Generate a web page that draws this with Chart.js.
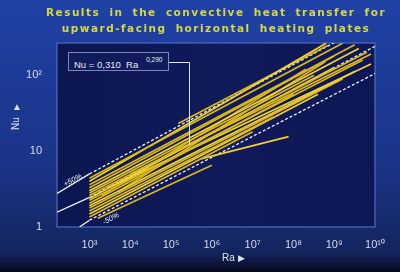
<!DOCTYPE html>
<html>
<head>
<meta charset="utf-8">
<script src="https://cdn.jsdelivr.net/npm/chart.js@4.4.1/dist/chart.umd.min.js"></script>
<style>
  html, body { margin: 0; padding: 0; background: #1a3384; }
  #wrap { position: relative; width: 400px; height: 272px; overflow: hidden; }
  #wrap canvas { position: absolute; left: 0; top: 0; }
  .title { position: absolute; left: 0; width: 432px; text-align: center; color: #d6d842;
           font: bold 10.5px "DejaVu Sans", sans-serif; letter-spacing: 1.5px; word-spacing: 4px; }
  .formula { position: absolute; left: 68px; top: 52px; width: 101px; height: 19px; box-sizing: border-box;
             border: 1px solid #7f88b4; background: #111c5c; color: #e8ecf4;
             font: 9.5px "Liberation Sans", sans-serif; line-height: 17px; padding-left: 5px; white-space: nowrap; }
  .formula sup { font-size: 6.5px; position: relative; top: -2px; margin-left: 8px; }
  .pct { position: absolute; color: #e8ecf4; font: italic 7.5px "Liberation Sans", sans-serif;
         transform: rotate(-28deg); transform-origin: left center; white-space: nowrap; }
  .axis { position: absolute; color: #dfe4f0; font: 10px "Liberation Sans", sans-serif; }
</style>
</head>
<body>
<div id="wrap">
  <canvas id="c" width="400" height="272"></canvas>
  <div class="title" style="top:6px">Results in the convective heat transfer for</div>
  <div class="title" style="top:22px">upward-facing horizontal heating plates</div>
  <div class="formula">Nu = 0,310&nbsp; Ra<sup>0,290</sup></div>
  <div class="pct" style="left:64px; top:180px">+50%</div>
  <div class="pct" style="left:103px; top:218px">-50%</div>
  <div class="axis" style="left:222px; top:252px">Ra <span style="font-size:9px">▶</span></div>
  <div class="axis" style="left:12px; top:101px">▲</div>
  <div class="axis" style="left:10px; top:130px; transform: rotate(-90deg); transform-origin: left top">Nu</div>
</div>
<script>
// axis ticks
const raTicks = [1e3, 1e4, 1e5, 1e6, 1e7, 1e8, 1e9, 1e10];
const raTickLabels = ["10³", "10⁴", "10⁵", "10⁶", "10⁷", "10⁸", "10⁹", "10¹⁰"];
const nuTicks = [1, 10, 100];
const nuTickLabels = ["1", "10", "10²"];

const startRa = [1e3, 1e3, 1e3, 1e3, 1e3, 1e3, 1e3, 1e3, 1e3, 1e3, 1e3, 1e3, 1e3, 1e3, 1e3, 1.5e5, 5.4e5, 1.6e3, 1e4, 3e3, 2e3, 5e3];
const startNu = [4.4, 4.0, 3.6, 3.3, 3.0, 2.8, 2.6, 2.4, 2.25, 2.05, 1.9, 1.78, 1.62, 1.48, 1.35, 23, 7.9, 1.3, 5.0, 3.3, 2.6, 2.9];
const endRa = [1.6e9, 6.3e8, 3.2e9, 1e9, 4e9, 3.2e8, 6.3e9, 1e9, 5e9, 1e8, 3.2e9, 1.6e9, 3.2e7, 4e8, 1e7, 6.8e8, 7.6e7, 1e6, 8e9, 8e9, 2e8, 6e8];
const endNu = [263, 263, 251, 178, 224, 100, 200, 126, 158, 56, 112, 89, 28, 56, 18, 245, 15.5, 6.5, 190, 140, 120, 150];

// correlation Nu = 0.310 Ra^0.290 and the +/-50 % band
const corrRa = [160, 1e3, 1e10];
const corrNu = [1.57, 2.45, 240];
const upperRa = [160, 1e3, 1e10];
const upperNu = [2.76, 5.0, 520];
const lowerRa = [570, 1e3, 1e10];
const lowerNu = [1.0, 1.23, 105];
const pointerRa = 2.75e5; // where the formula box points

const pts = (xs, ys) => xs.map((x, i) => ({ x, y: ys[i] }));

const datasets = startRa.map((r, i) => ({
  data: [{ x: r, y: startNu[i] }, { x: endRa[i], y: endNu[i] }],
  borderColor: i % 3 === 1 ? "#f0d234" : "#dcb81c", borderWidth: 1.7
}));

const dashAfter1e3 = { borderDash: ctx => ctx.p0.parsed.x >= 1e3 ? [3, 2] : undefined };
[[corrRa, corrNu], [upperRa, upperNu], [lowerRa, lowerNu]].forEach(([xs, ys]) => {
  datasets.push({ data: pts(xs, ys), borderColor: "#eef2fa", borderWidth: 1.3, segment: dashAfter1e3 });
});

const backdrop = {
  id: "backdrop",
  beforeDraw(chart) {
    const { ctx, chartArea: a, width, height } = chart;
    ctx.save();
    let g = ctx.createLinearGradient(0, 0, 0, height);
    g.addColorStop(0, "#1f42a6");
    g.addColorStop(0.6, "#1a3488");
    g.addColorStop(0.93, "#14245e");
    g.addColorStop(1, "#05081c");
    ctx.fillStyle = g;
    ctx.fillRect(0, 0, width, height);
    g = ctx.createLinearGradient(a.left, 0, a.right, 0);
    g.addColorStop(0, "#0c1650");
    g.addColorStop(0.5, "#111a5a");
    g.addColorStop(1, "#0e1755");
    ctx.fillStyle = g;
    ctx.fillRect(a.left, a.top, a.right - a.left, a.bottom - a.top);
    ctx.strokeStyle = "#4f6cc0";
    ctx.lineWidth = 1.2;
    ctx.strokeRect(a.left, a.top, a.right - a.left, a.bottom - a.top);
    ctx.restore();
  },
  afterDatasetsDraw(chart) {
    const { ctx, scales } = chart;
    const i = corrRa.length - 1;
    // point on correlation line (log-log interpolation between the read points)
    const t = (Math.log10(pointerRa) - Math.log10(corrRa[1])) / (Math.log10(corrRa[i]) - Math.log10(corrRa[1]));
    const nu = Math.pow(10, Math.log10(corrNu[1]) + t * (Math.log10(corrNu[i]) - Math.log10(corrNu[1])));
    const px = scales.x.getPixelForValue(pointerRa), py = scales.y.getPixelForValue(nu);
    ctx.save();
    ctx.strokeStyle = "#dfe4f2";
    ctx.lineWidth = 1;
    ctx.beginPath();
    ctx.moveTo(169, 62.5);
    ctx.lineTo(Math.round(px) + 0.5, 62.5);
    ctx.lineTo(Math.round(px) + 0.5, py);
    ctx.stroke();
    ctx.restore();
  }
};

const tickFont = { family: "Liberation Sans", size: 11 };

new Chart(document.getElementById("c"), {
  type: "scatter",
  data: { datasets },
  plugins: [backdrop],
  options: {
    responsive: false,
    animation: false,
    showLine: true,
    layout: { padding: { left: 0, top: 43, right: 25, bottom: 0 } },
    elements: { point: { radius: 0 }, line: { tension: 0 } },
    plugins: { legend: { display: false }, tooltip: { enabled: false } },
    scales: {
      x: {
        type: "logarithmic", min: 160, max: 1e10,
        afterBuildTicks: s => { s.ticks = raTicks.map(v => ({ value: v })); },
        afterFit: s => { s.height = 45; },
        ticks: { callback: (v, i) => raTickLabels[i], color: "#d6dbe8", font: tickFont, padding: 3, maxRotation: 0, autoSkip: false },
        grid: { display: false }, border: { display: false }
      },
      y: {
        type: "logarithmic", min: 1, max: 265,
        afterBuildTicks: s => { s.ticks = nuTicks.map(v => ({ value: v })); },
        afterFit: s => { s.width = 57; },
        ticks: { callback: (v, i) => nuTickLabels[i], color: "#d6dbe8", font: tickFont, padding: 7, autoSkip: false },
        grid: { display: false }, border: { display: false }
      }
    }
  }
});
</script>
</body>
</html>
